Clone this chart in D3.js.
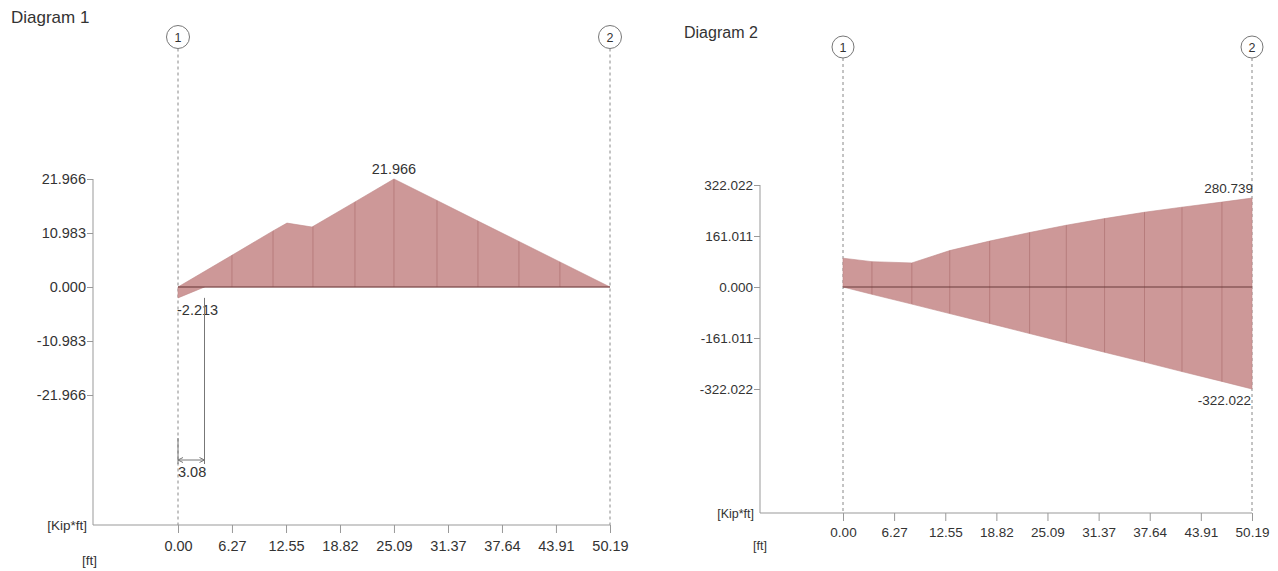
<!DOCTYPE html>
<html>
<head>
<meta charset="utf-8">
<script src="https://cdn.jsdelivr.net/npm/d3@7"></script>
<style>
  body { margin: 0; background: #fff; }
  text { font-family: "Liberation Sans", Arial, sans-serif; fill: #333; }
</style>
</head>
<body>
<script>
// x stations shared by both diagrams [ft]
let xTicks = [0, 6.27, 12.55, 18.82, 25.09, 31.37, 37.64, 43.91, 50.19];

// Diagram 1 - moment [Kip*ft]
let d1Ticks = [21.966, 10.983, 0, -10.983, -21.966];
let d1X = [0, 6.27, 11.04, 12.66, 15.57, 20.56, 25.09, 30.09, 34.85, 39.61, 44.37, 50.19];
let d1V = [0, 6.45, 11.4, 13.0, 12.2, 17.3, 21.966, 17.59, 13.41, 9.26, 5.09, 0];
let d1NegX = [0, 0, 3.08];
let d1NegV = [0, -2.213, 0];
let d1Hatch = [6.27, 11.04, 15.68, 20.56, 25.09, 30.09, 34.85, 39.61, 44.37];

// Diagram 2 - moment envelope [Kip*ft]
let d2Ticks = [322.022, 161.011, 0, -161.011, -322.022];
let d2X = [0, 3.55, 8.45, 13.1, 18.0, 22.9, 27.4, 32.1, 37.0, 41.6, 46.5, 50.19];
let d2Max = [91, 80, 76, 115, 145, 172, 195, 216, 236, 252, 268, 280.739];
let d2Min = [0, -23, -54, -84, -115, -147, -176, -206, -237, -267, -298, -322.022];
let d2Hatch = [3.55, 8.45, 13.1, 18.0, 22.9, 27.4, 32.1, 37.0, 41.6, 46.5];

let fillCol = '#cd9898';
let hatchCol = '#b77c7c';
let axisCol = '#999';

// plain hyphen for negatives, like the original
let loc = d3.formatLocale({decimal: '.', thousands: ',', grouping: [3], currency: ['', ''], minus: '-'});
let f3 = loc.format('.3f');
let f2 = loc.format('.2f');

let svg = d3.select('body')
  .append('svg')
    .attr('width', 1278)
    .attr('height', 571);

function drawDiagram(cfg, id) {
  let g = svg.append('g');
  let fs = cfg.fontSize;

  let x = d3.scaleLinear().domain([0, 50.19]).range(cfg.xRange);
  let y = d3.scaleLinear().domain([cfg.ticks[4], cfg.ticks[0]]).range(cfg.yRange);

  // title
  g.append('text')
    .attr('x', cfg.titlePos[0])
    .attr('y', cfg.titlePos[1])
    .style('font-size', cfg.titleSize + 'px')
    .text(cfg.title);

  // support grid lines + circles
  [[0, '1'], [50.19, '2']].forEach(([v, lbl]) => {
    g.append('line')
      .attr('x1', x(v)).attr('x2', x(v))
      .attr('y1', cfg.circleY + cfg.r).attr('y2', cfg.axisY)
      .style('stroke', '#888')
      .style('stroke-dasharray', '3,3');
    g.append('circle')
      .attr('cx', x(v)).attr('cy', cfg.circleY).attr('r', cfg.r)
      .style('fill', '#fff')
      .style('stroke', '#777');
    g.append('text')
      .attr('x', x(v)).attr('y', cfg.circleY + 4.5)
      .attr('text-anchor', 'middle')
      .style('font-size', '12.5px')
      .text(lbl);
  });

  // filled shapes
  cfg.areas.forEach((a, i) => {
    let pts = a.xs.map((xv, k) => ({x: xv, lo: a.lo[k], hi: a.hi[k]}));
    let area = d3.area()
      .x(d => x(d.x))
      .y0(d => y(d.lo))
      .y1(d => y(d.hi));
    let clipId = `clip-${id}-${i}`;
    g.append('clipPath').attr('id', clipId)
      .append('path').attr('d', area(pts));
    g.append('path')
      .attr('d', area(pts))
      .style('fill', fillCol)
      .style('stroke', '#c08888')
      .style('stroke-width', 0.6);
    // hatch lines clipped to the shape
    g.append('g')
      .attr('clip-path', `url(#${clipId})`)
      .selectAll('line')
      .data(a.hatch || [])
      .join('line')
        .attr('x1', d => x(d)).attr('x2', d => x(d))
        .attr('y1', cfg.yRange[1] - 20).attr('y2', cfg.yRange[0] + 20)
        .style('stroke', hatchCol)
        .style('stroke-width', 1);
  });

  // zero line
  g.append('line')
    .attr('x1', x(0)).attr('x2', x(50.19))
    .attr('y1', y(0)).attr('y2', y(0))
    .style('stroke', '#6b3a3a')
    .style('stroke-width', 1.2);

  // y axis
  let yAxis = d3.axisLeft(y)
    .tickValues(cfg.ticks)
    .tickFormat(f3)
    .tickSize(6)
    .tickPadding(1);
  let ya = g.append('g')
    .attr('transform', `translate(${cfg.axisX}, 0)`)
    .call(yAxis);
  ya.select('.domain').remove();
  ya.selectAll('line').style('stroke', axisCol);
  ya.selectAll('text')
    .style('font-size', fs + 'px')
    .style('font-family', '"Liberation Sans", Arial, sans-serif')
    .style('fill', '#333');
  g.append('line')
    .attr('x1', cfg.axisX).attr('x2', cfg.axisX)
    .attr('y1', y(cfg.ticks[0])).attr('y2', cfg.axisY)
    .style('stroke', axisCol);

  // x axis
  let xAxis = d3.axisBottom(x)
    .tickValues(xTicks)
    .tickFormat(f2)
    .tickSize(8)
    .tickPadding(cfg.xPad);
  let xa = g.append('g')
    .attr('transform', `translate(0, ${cfg.axisY})`)
    .call(xAxis);
  xa.select('.domain').remove();
  xa.selectAll('line').style('stroke', axisCol);
  xa.selectAll('text')
    .style('font-size', fs + 'px')
    .style('font-family', '"Liberation Sans", Arial, sans-serif')
    .style('fill', '#333');
  g.append('line')
    .attr('x1', cfg.axisX).attr('x2', x(50.19))
    .attr('y1', cfg.axisY).attr('y2', cfg.axisY)
    .style('stroke', axisCol);

  // unit labels
  g.append('text')
    .attr('x', cfg.axisX - 6).attr('y', cfg.axisY + 5)
    .attr('text-anchor', 'end')
    .style('font-size', (fs - 1) + 'px')
    .text('[Kip*ft]');
  g.append('text')
    .attr('x', cfg.ftPos[0]).attr('y', cfg.ftPos[1])
    .style('font-size', (fs - 1) + 'px')
    .text('[ft]');

  // value labels
  cfg.labels.forEach(l => {
    g.append('text')
      .attr('x', x(l.x) + (l.dx || 0))
      .attr('y', y(l.v) + l.dy)
      .attr('text-anchor', l.anchor)
      .style('font-size', fs + 'px')
      .text(f3(l.v));
  });

  return {g, x, y};
}

let d1 = drawDiagram({
  title: 'Diagram 1',
  titlePos: [11, 23],
  titleSize: 17,
  fontSize: 14.5,
  r: 11.5,
  xRange: [178, 610],
  yRange: [395, 179],
  ticks: d1Ticks,
  axisX: 93,
  axisY: 525,
  circleY: 37,
  xPad: 8,
  ftPos: [82, 565],
  areas: [
    {xs: d1X, lo: d1X.map(() => 0), hi: d1V, hatch: d1Hatch},
    {xs: d1NegX, lo: d1NegV, hi: d1NegX.map(() => 0)}
  ],
  labels: [
    {x: 25.09, v: 21.966, dy: -5, anchor: 'middle'},
    {x: 0, v: -2.213, dy: 17, dx: -1, anchor: 'start'}
  ]
}, 1);

// dimension for the negative part
let dimY = 460;
let xd = d1.x(3.08), x0 = d1.x(0);
d1.g.append('line')
  .attr('x1', xd).attr('x2', xd)
  .attr('y1', d1.y(-2.213)).attr('y2', dimY + 4)
  .style('stroke', '#777');
d1.g.append('line')
  .attr('x1', x0).attr('x2', x0)
  .attr('y1', dimY - 22).attr('y2', dimY + 4)
  .style('stroke', '#777');
d1.g.append('line')
  .attr('x1', x0).attr('x2', xd)
  .attr('y1', dimY).attr('y2', dimY)
  .style('stroke', '#777');
[[x0, 1], [xd, -1]].forEach(([px, s]) => {
  d1.g.append('path')
    .attr('d', `M${px + s * 5},${dimY - 2.5}L${px},${dimY}L${px + s * 5},${dimY + 2.5}`)
    .style('fill', 'none')
    .style('stroke', '#777');
});
d1.g.append('text')
  .attr('x', x0).attr('y', dimY + 17)
  .style('font-size', '14.5px')
  .text('3.08');

drawDiagram({
  title: 'Diagram 2',
  titlePos: [684, 38],
  titleSize: 16,
  fontSize: 13.5,
  r: 11,
  xRange: [843, 1252],
  yRange: [389, 185],
  ticks: d2Ticks,
  axisX: 760,
  axisY: 513,
  circleY: 47,
  xPad: 6,
  ftPos: [753, 550],
  areas: [
    {xs: d2X, lo: d2Min, hi: d2Max, hatch: d2Hatch}
  ],
  labels: [
    {x: 50.19, v: 280.739, dy: -5, dx: 1, anchor: 'end'},
    {x: 50.19, v: -322.022, dy: 16, dx: -1, anchor: 'end'}
  ]
}, 2);
</script>
</body>
</html>
